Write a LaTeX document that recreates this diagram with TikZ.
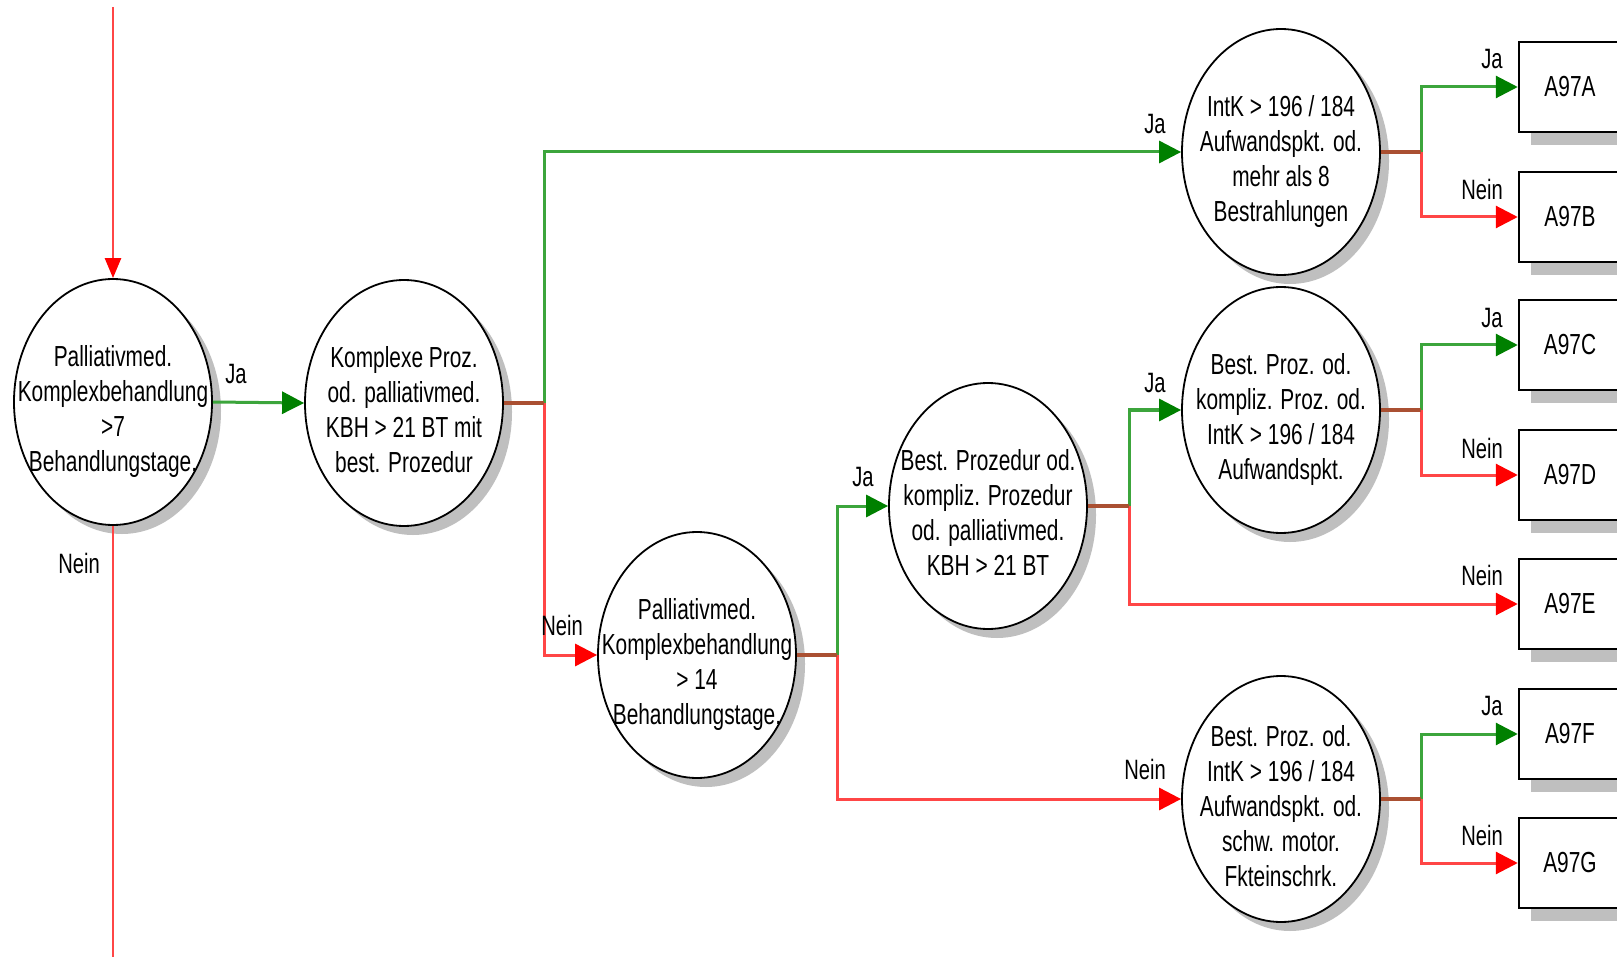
\documentclass[tikz,border=0pt]{standalone}
\usepackage{fontspec}
\setmainfont[FakeStretch=0.72]{Liberation Sans}
\usetikzlibrary{arrows.meta,shapes.geometric,shadows}
\definecolor{gline}{RGB}{60,165,60}
\definecolor{gtip}{RGB}{0,128,0}
\definecolor{rline}{RGB}{255,70,70}
\definecolor{rtip}{RGB}{255,0,0}
\definecolor{bline}{RGB}{170,80,50}
\newcommand{\tx}[1]{\raisebox{-10pt}[\height][\depth]{\begin{tabular}{@{}c@{}}#1\end{tabular}}}
\tikzset{
  dec/.style={ellipse, draw=black, line width=1.8pt, fill=white,
    minimum width=198pt, minimum height=246pt, inner xsep=-40pt, inner ysep=-40pt,
    font=\fontsize{29}{35}\selectfont,
    general shadow={fill=black!25, shadow xshift=9pt, shadow yshift=-9pt}},
  res/.style={rectangle, draw=black, line width=2.5pt, fill=white,
    minimum width=102pt, minimum height=90pt, inner sep=0pt,
    font=\fontsize{29}{35}\selectfont,
    general shadow={fill=black!25, shadow xshift=12pt, shadow yshift=-13pt}},
  lab/.style={inner sep=0pt, font=\fontsize{28}{34}\selectfont},
  yes/.style={draw=gline, line width=3pt, -{Triangle[length=22pt,width=22pt,color=gtip]}},
  no/.style={draw=rline, line width=3pt, -{Triangle[length=22pt,width=22pt,color=rtip]}},
  nof/.style={draw=rline, line width=2.5pt},
  stem/.style={draw=bline, line width=3.5pt},
}
\begin{document}
\begin{tikzpicture}[x=1pt,y=-1pt]
\clip (0,0) rectangle (1617,957);
\fill[white] (0,0) rectangle (1617,957);

% decision nodes
\node[dec] (e1) at (113,402) {\tx{Palliativmed.\\Komplexbehandlung\\>7\\Behandlungstage.}};
\node[dec] (e2) at (404,403) {\tx{Komplexe Proz.\\od. palliativmed.\\KBH > 21 BT mit\\best. Prozedur}};
\node[dec] (e3) at (697,655) {\tx{Palliativmed.\\Komplexbehandlung\\> 14\\Behandlungstage.}};
\node[dec] (e4) at (1281,152) {\tx{IntK > 196 / 184\\Aufwandspkt. od.\\mehr als 8\\Bestrahlungen}};
\node[dec] (e5) at (988,506) {\tx{Best. Prozedur od.\\kompliz. Prozedur\\od. palliativmed.\\KBH > 21 BT}};
\node[dec] (e6) at (1281,410) {\tx{Best. Proz. od.\\kompliz. Proz. od.\\IntK > 196 / 184\\Aufwandspkt.}};
\node[dec] (e7) at (1281,799) {\tx{Best. Proz. od.\\IntK > 196 / 184\\Aufwandspkt. od.\\schw. motor.\\Fkteinschrk.}};

% result boxes
\node[res] (a) at (1570,87) {A97A};
\node[res] (b) at (1570,217) {A97B};
\node[res] (c) at (1570,345) {A97C};
\node[res] (d) at (1570,475) {A97D};
\node[res] (e) at (1570,604) {A97E};
\node[res] (f) at (1570,734) {A97F};
\node[res] (g) at (1570,863) {A97G};

% junction coordinates
\coordinate (top) at (113,7);
\coordinate (bot) at (113,962);
\coordinate (j2) at (544,403);
\coordinate (j3) at (837,655);
\coordinate (j5) at (1129,506);
\coordinate (j4) at (1421,152);
\coordinate (j6) at (1421,410);
\coordinate (j7) at (1421,799);

% connectors
\draw[draw=rline, line width=2.5pt, -{Triangle[length=20pt,width=16pt,color=rtip]}] (top) -- (e1.north);
\draw[nof] (e1.south) -- (bot);
\draw[yes] (e1.east) -- (e2.west);

\draw[yes] (j2) |- (e4.west);
\draw[no] (j2) |- (e3.west);
\draw[stem] (e2.east) -- (j2);

\draw[yes] (j3) |- (e5.west);
\draw[no] (j3) |- (e7.west);
\draw[stem] (e3.east) -- (j3);

\draw[yes] (j5) |- (e6.west);
\draw[no] (j5) |- (e.west);
\draw[stem] (e5.east) -- (j5);

\draw[yes] (j4) |- (a.west);
\draw[no] (j4) |- (b.west);
\draw[stem] (e4.east) -- (j4);

\draw[yes] (j6) |- (c.west);
\draw[no] (j6) |- (d.west);
\draw[stem] (e6.east) -- (j6);

\draw[yes] (j7) |- (f.west);
\draw[no] (j7) |- (g.west);
\draw[stem] (e7.east) -- (j7);

% labels
\node[lab] (l1) at (236,374) {Ja};
\node[lab] (l2) at (79,563) {Nein};
\node[lab] (l3) at (1155,124) {Ja};
\node[lab] (l4) at (562,625) {Nein};
\node[lab] (l5) at (863,477) {Ja};
\node[lab] (l6) at (1145,769) {Nein};
\node[lab] (l7) at (1155,383) {Ja};
\node[lab] (l8) at (1482,575) {Nein};
\node[lab] (l9) at (1492,59) {Ja};
\node[lab] (l10) at (1482,189) {Nein};
\node[lab] (l11) at (1492,318) {Ja};
\node[lab] (l12) at (1482,448) {Nein};
\node[lab] (l13) at (1492,706) {Ja};
\node[lab] (l14) at (1482,835) {Nein};
\end{tikzpicture}
\end{document}
